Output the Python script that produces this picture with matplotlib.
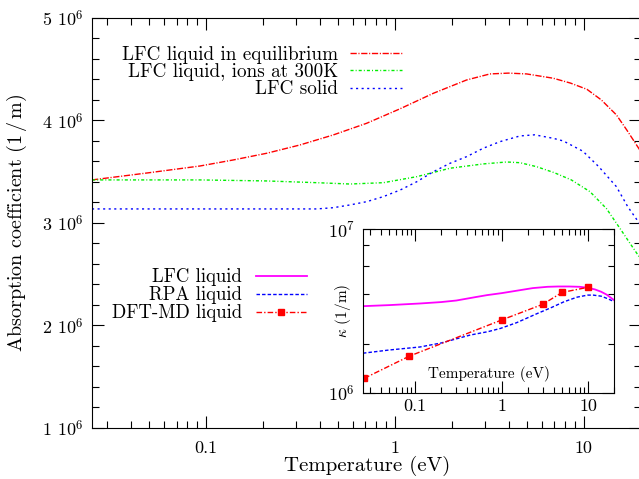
import numpy as np
import matplotlib
matplotlib.use("Agg")
import matplotlib.pyplot as plt
from matplotlib.ticker import FixedLocator, FixedFormatter, NullFormatter, LogLocator, MultipleLocator

plt.rcParams["font.family"] = "serif"
plt.rcParams["font.serif"] = ["cmr10"]
plt.rcParams["mathtext.fontset"] = "cm"
plt.rcParams["axes.unicode_minus"] = False

# main panel: absorption coefficient in units of 1e6 1/m
t_eq = [0.025, 0.05, 0.0933, 0.14, 0.21, 0.315, 0.473, 0.711, 1.07, 1.6, 2.4, 3.19, 4.0,
        4.99, 6.9, 8.5, 10.4, 12.4, 14.9, 16.9, 20.0]
k_eq = [3.42, 3.49, 3.556, 3.615, 3.68, 3.761, 3.859, 3.973, 4.115, 4.265, 4.395, 4.454,
        4.462, 4.454, 4.412, 4.365, 4.304, 4.2, 4.054, 3.907, 3.70]

t_300 = [0.025, 0.0933, 0.21, 0.387, 0.58, 0.87, 1.31, 1.96, 2.94, 3.91, 4.6, 5.64, 7.0,
         8.6, 10.8, 13.2, 16.2, 17.6, 20.0]
k_300 = [3.42, 3.42, 3.41, 3.393, 3.38, 3.393, 3.452, 3.534, 3.576, 3.595, 3.588, 3.549,
         3.49, 3.42, 3.305, 3.14, 2.899, 2.80, 2.65]

t_sol = [0.025, 0.1, 0.387, 0.473, 0.58, 0.711, 0.87, 1.07, 1.31, 1.6, 1.96, 2.4, 2.94,
         3.6, 4.6, 5.5, 6.9, 7.8, 9.9, 12.0, 14.9, 17.1, 20.0]
k_sol = [3.137, 3.137, 3.137, 3.149, 3.176, 3.208, 3.257, 3.322, 3.403, 3.50, 3.582, 3.647,
         3.729, 3.793, 3.849, 3.86, 3.826, 3.80, 3.70, 3.55, 3.354, 3.159, 2.98]

# inset: kappa (1/m)
t_lfc = [0.025, 0.05, 0.114, 0.2, 0.3, 0.5, 0.682, 1.0, 1.66, 2.3, 3.4, 4.5, 6.0, 8.0,
         9.93, 12.0, 14.2, 16.5, 20.0]
k_lfc = [3.39e6, 3.44e6, 3.52e6, 3.59e6, 3.67e6, 3.85e6, 3.96e6, 4.07e6, 4.25e6, 4.37e6,
         4.45e6, 4.47e6, 4.47e6, 4.45e6, 4.39e6, 4.29e6, 4.15e6, 3.98e6, 3.69e6]

t_rpa = [0.025, 0.05, 0.114, 0.2, 0.436, 0.7, 0.973, 1.5, 2.6, 3.7, 5.3, 7.5, 9.93, 11.5,
         14.2, 17.0, 20.0]
k_rpa = [1.75e6, 1.83e6, 1.91e6, 2.02e6, 2.26e6, 2.37e6, 2.48e6, 2.69e6, 3.06e6, 3.31e6,
         3.61e6, 3.85e6, 3.96e6, 3.96e6, 3.90e6, 3.76e6, 3.61e6]

t_dft = [0.0259, 0.0862, 1.0, 3.0, 5.0, 10.0]
k_dft = [1.23e6, 1.68e6, 2.79e6, 3.48e6, 4.11e6, 4.42e6]

y_ticks = [1, 2, 3, 4, 5]
y_labels = ["%d 10$^6$" % v for v in y_ticks]
x_ticks = [0.1, 1, 10]
x_labels = ["0.1", "1", "10"]

fig = plt.figure(figsize=(6.39, 4.79), dpi=100)
ax = fig.add_axes([0.144, 0.1065, 0.8585, 0.856])

l1, = ax.plot(t_eq, np.array(k_eq) * 1e6, color="#ff0000", lw=1.0, dashes=(4.5, 1.2, 0.8, 1.2),
              label="LFC liquid in equilibrium")
l2, = ax.plot(t_300, np.array(k_300) * 1e6, color="#00ee00", lw=1.0, dashes=(2.2, 1.5, 0.7, 1.5),
              label="LFC liquid, ions at 300K")
l3, = ax.plot(t_sol, np.array(k_sol) * 1e6, color="#0000ff", lw=1.0, dashes=(1.5, 2.5),
              label="LFC solid")

ax.set_xscale("log")
ax.set_xlim(0.025, 20)
ax.set_ylim(1e6, 5e6)
ax.xaxis.set_major_locator(FixedLocator(x_ticks))
ax.xaxis.set_major_formatter(FixedFormatter(x_labels))
ax.xaxis.set_minor_locator(LogLocator(subs=np.arange(2, 10)))
ax.xaxis.set_minor_formatter(NullFormatter())
ax.yaxis.set_major_locator(FixedLocator([v * 1e6 for v in y_ticks]))
ax.yaxis.set_major_formatter(FixedFormatter(y_labels))
ax.yaxis.set_minor_locator(MultipleLocator(0.2e6))
ax.tick_params(which="both", direction="in", top=True, right=True, labelsize=13, width=0.8)
ax.tick_params(which="major", length=8.6)
ax.tick_params(which="minor", length=4.7)
ax.tick_params(axis="x", pad=9)
ax.tick_params(axis="y", pad=6)
ax.set_xlabel("Temperature (eV)", fontsize=15)
ax.set_ylabel(r"Absorption coefficient (1$\,$/$\,$m)", fontsize=14.5)
ax.xaxis.set_label_coords(0.502, -0.093)
ax.yaxis.set_label_coords(-0.137, 0.5)
ax.xaxis.label.set_va("center")
ax.yaxis.label.set_va("center")

ax.legend(handles=[l1, l2, l3], loc="upper right", bbox_to_anchor=(0.629, 0.905),
          bbox_transform=fig.transFigure, frameon=False, markerfirst=False, fontsize=13.8,
          borderpad=0, borderaxespad=0, handlelength=2.7, handletextpad=0.62, labelspacing=-0.03)

# inset
axi = fig.add_axes([0.568, 0.1795, 0.393, 0.342])
m1, = axi.plot(t_lfc, k_lfc, color="#ff00ff", lw=1.3, label="LFC liquid")
m2, = axi.plot(t_rpa, k_rpa, color="#0000ff", lw=1.0, dashes=(2.5, 1.5), label="RPA liquid")
m3, = axi.plot(t_dft, k_dft, color="#ff0000", lw=1.0, dashes=(4, 1.5, 1, 1.5),
               marker="s", markersize=5, label="DFT-MD liquid")
axi.set_xscale("log")
axi.set_yscale("log")
axi.set_xlim(0.025, 20)
axi.set_ylim(1e6, 1e7)
axi.xaxis.set_major_locator(FixedLocator(x_ticks))
axi.xaxis.set_major_formatter(FixedFormatter(x_labels))
axi.xaxis.set_minor_locator(LogLocator(subs=np.arange(2, 10)))
axi.xaxis.set_minor_formatter(NullFormatter())
axi.yaxis.set_major_locator(FixedLocator([1e6, 1e7]))
axi.yaxis.set_major_formatter(FixedFormatter(["10$^6$", "10$^7$"]))
axi.yaxis.set_minor_locator(FixedLocator([2e6, 4e6, 6e6, 8e6]))
axi.yaxis.set_minor_formatter(NullFormatter())
axi.tick_params(which="both", direction="in", top=True, right=True, labelsize=13, width=0.8)
axi.tick_params(which="major", length=8.6)
axi.tick_params(which="minor", length=4.5)
axi.tick_params(axis="x", pad=4)
axi.tick_params(axis="y", pad=6)
axi.set_xlabel("Temperature (eV)", fontsize=11)
axi.set_ylabel(r"$\kappa$ (1/m)", fontsize=11)
axi.xaxis.set_label_coords(0.5, 0.116)
axi.yaxis.set_label_coords(-0.08, 0.5)
axi.xaxis.label.set_va("center")
axi.yaxis.label.set_va("center")

axi.legend(handles=[m1, m2, m3], loc="upper right", bbox_to_anchor=(0.48, 0.44),
           bbox_transform=fig.transFigure, frameon=False, markerfirst=False, fontsize=13.5,
           borderpad=0, borderaxespad=0, handlelength=2.7, handletextpad=0.75, labelspacing=0.0,
           numpoints=1)

fig.savefig("out.png", dpi=100, facecolor="white")
